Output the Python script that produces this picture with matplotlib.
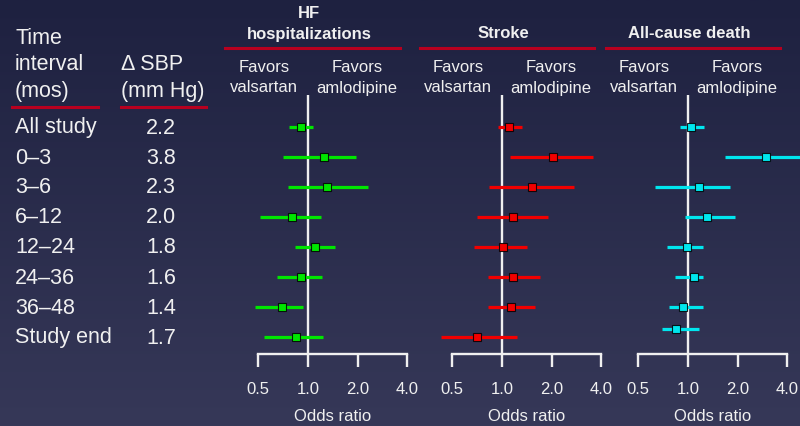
import numpy as np
import matplotlib
matplotlib.use("Agg")
import matplotlib.pyplot as plt

plt.rcParams["font.family"] = ["Liberation Sans", "DejaVu Sans"]

# datos
intervals = ["All study", "0–3", "3–6", "6–12", "12–24", "24–36", "36–48", "Study end"]
delta_sbp = ["2.2", "3.8", "2.3", "2.0", "1.8", "1.6", "1.4", "1.7"]

hf_or = [0.91, 1.25, 1.31, 0.80, 1.10, 0.91, 0.70, 0.85]
hf_lo = [0.77, 0.71, 0.76, 0.51, 0.84, 0.65, 0.48, 0.54]
hf_hi = [1.08, 1.95, 2.30, 1.20, 1.45, 1.21, 0.93, 1.23]

stroke_or = [1.11, 2.03, 1.53, 1.16, 1.02, 1.16, 1.14, 0.71]
stroke_lo = [0.94, 1.12, 0.83, 0.71, 0.68, 0.82, 0.82, 0.43]
stroke_hi = [1.32, 3.54, 2.72, 1.89, 1.42, 1.71, 1.58, 1.23]

death_or = [1.05, 2.97, 1.17, 1.31, 0.98, 1.09, 0.93, 0.85]
death_lo = [0.89, 1.67, 0.63, 0.96, 0.75, 0.83, 0.77, 0.70]
death_hi = [1.25, 6.00, 1.79, 1.92, 1.24, 1.24, 1.23, 1.17]

ticks = [0.5, 1.0, 2.0, 4.0]
tick_labels = ["0.5", "1.0", "2.0", "4.0"]

W, H = 800, 426
TXT = "#f0f0f0"
RED_LINE = "#b8001f"


def fx(px):
    return px / W


def fy(py):
    return 1 - py / H


fig = plt.figure(figsize=(8, 4.26), dpi=100)

# fondo degradado
bg = fig.add_axes([0, 0, 1, 1], zorder=-10)
top = np.array([30, 33, 64]) / 255
bottom = np.array([54, 56, 88]) / 255
t = np.linspace(0, 1, 256)[:, None]
grad = top[None, :] * (1 - t) + bottom[None, :] * t
bg.imshow(grad[:, None, :], aspect="auto", extent=[0, 1, 0, 1])
bg.axis("off")


def hline(x0, x1, y, color=RED_LINE, lw=2.2):
    fig.add_artist(plt.Line2D([fx(x0), fx(x1)], [fy(y), fy(y)],
                              color=color, lw=lw, transform=fig.transFigure))


# encabezados izquierda
fs_big = 15.5
fig.text(fx(15), fy(38), "Time", color=TXT, fontsize=fs_big, va="center")
fig.text(fx(15), fy(65), "interval", color=TXT, fontsize=fs_big, va="center")
fig.text(fx(15), fy(91), "(mos)", color=TXT, fontsize=fs_big, va="center")
fig.text(fx(121), fy(65), "Δ SBP", color=TXT, fontsize=fs_big, va="center")
fig.text(fx(121), fy(91), "(mm Hg)", color=TXT, fontsize=fs_big, va="center")
hline(12, 98, 107)
hline(121, 206, 107)

rows = np.arange(len(intervals))
for i, (lab, val) in enumerate(zip(intervals, delta_sbp)):
    y = 128 + 30 * i
    fig.text(fx(15), fy(y), lab, color=TXT, fontsize=fs_big, va="center")
    fig.text(fx(161), fy(y), val, color=TXT, fontsize=fs_big, va="center", ha="center")

panels = [
    ("HF\nhospitalizations", 308, 225, 400, hf_or, hf_lo, hf_hi, "#00e600", 0.0),
    ("Stroke", 502, 420, 594, stroke_or, stroke_lo, stroke_hi, "#f20000", 0.0),
    ("All-cause death", 688, 606, 780, death_or, death_lo, death_hi, "#00e6ee", -0.27),
]

for title, x1, u0, u1, est, lo, hi, col, last_shift in panels:
    left = x1 - 49.7
    ax = fig.add_axes([fx(left), fy(354), 149 / W, (354 - 95) / H])
    ax.patch.set_alpha(0)
    ax.set_xscale("log", base=2)
    ax.set_xlim(0.5, 4.0)
    ax.set_ylim(7.567, -1.067)
    ypos = rows.astype(float)
    ypos[-1] += last_shift
    ax.axvline(1.0, color=TXT, lw=1.7, zorder=1)
    ax.hlines(ypos, lo, hi, color=col, lw=2.3, clip_on=False, zorder=2)
    ax.plot(est, ypos, "s", color=col, markersize=6, markeredgecolor=(0, 0, 0, 0.85),
            markeredgewidth=0.8, clip_on=False, zorder=3)
    for s in ["left", "top", "right"]:
        ax.spines[s].set_visible(False)
    ax.spines["bottom"].set_color(TXT)
    ax.spines["bottom"].set_linewidth(1.7)
    ax.set_yticks([])
    ax.set_xticks(ticks)
    ax.set_xticklabels(tick_labels)
    ax.minorticks_off()
    ax.tick_params(axis="x", length=9.4, width=1.7, color=TXT, labelcolor=TXT,
                   labelsize=12, pad=10.5)
    ax.set_xlabel("Odds ratio", color=TXT, fontsize=12, labelpad=9)

    # titulos de panel
    if "\n" in title:
        a, b = title.split("\n")
        fig.text(fx(x1 + 1), fy(13), a, color=TXT, fontsize=12, fontweight="bold",
                 ha="center", va="center")
        fig.text(fx(x1 + 1), fy(34), b, color=TXT, fontsize=12, fontweight="bold",
                 ha="center", va="center")
    else:
        fig.text(fx(x1 + 1), fy(34), title, color=TXT, fontsize=12, fontweight="bold",
                 ha="center", va="center")
    hline(u0, u1, 48)
    fig.text(fx(x1 - 44), fy(68), "Favors", color=TXT, fontsize=12, ha="center", va="center")
    fig.text(fx(x1 - 44), fy(88), "valsartan", color=TXT, fontsize=12, ha="center", va="center")
    fig.text(fx(x1 + 49), fy(68), "Favors", color=TXT, fontsize=12, ha="center", va="center")
    fig.text(fx(x1 + 49), fy(88), "amlodipine", color=TXT, fontsize=12, ha="center", va="center")

fig.savefig("out.png", dpi=100)
